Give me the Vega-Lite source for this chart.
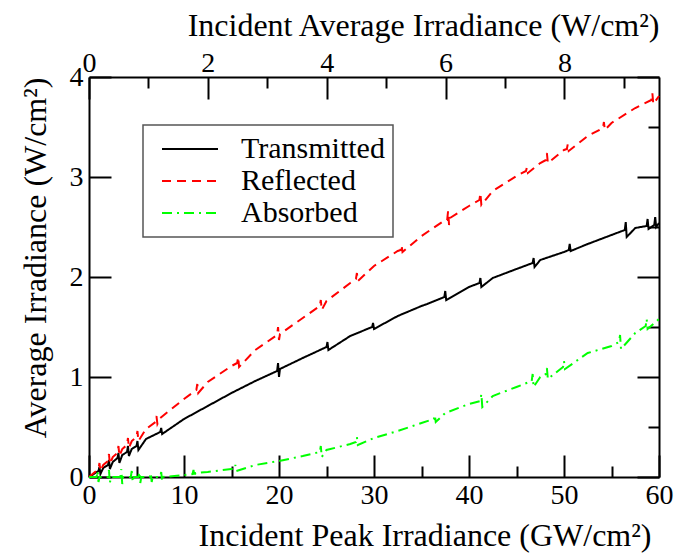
{
  "$schema": "https://vega.github.io/schema/vega-lite/v6.json",
  "width": 570,
  "height": 400,
  "autosize": {"type": "none"},
  "padding": {"left": 89, "top": 77, "right": 20, "bottom": 77},
  "background": "white",
  "config": {
    "view": {"stroke": null},
    "axis": {
      "labelFont": "Liberation Serif, Times New Roman, Times, DejaVu Serif, serif", "labelFontSize": 28, "labelColor": "black",
      "titleFont": "Liberation Serif, Times New Roman, Times, DejaVu Serif, serif", "titleFontSize": 32, "titleFontWeight": "normal", "titleColor": "black",
      "domainColor": "black", "domainWidth": 2, "tickColor": "black", "tickWidth": 2,
      "grid": false, "labelFlush": false, "labelOverlap": false, "labelBound": false, "titleAnchor": "end"
    },
    "legend": {
      "strokeColor": "#555555", "strokeWidth": 1.5, "fillColor": "white", "padding": 8
    }
  },
  "layer": [
    {
      "data": {"values": [
        {"s":"Transmitted","x":0,"y":0},{"s":"Transmitted","x":0.5,"y":0.03},{"s":"Transmitted","x":1,"y":0.06},{"s":"Transmitted","x":1.1,"y":0.1},{"s":"Transmitted","x":1.2,"y":0.03},{"s":"Transmitted","x":1.5,"y":0.09},{"s":"Transmitted","x":2,"y":0.12},{"s":"Transmitted","x":2.1,"y":0.17},{"s":"Transmitted","x":2.2,"y":0.08},{"s":"Transmitted","x":2.5,"y":0.15},{"s":"Transmitted","x":3,"y":0.19},{"s":"Transmitted","x":3.1,"y":0.24},{"s":"Transmitted","x":3.2,"y":0.14},{"s":"Transmitted","x":3.5,"y":0.22},{"s":"Transmitted","x":4,"y":0.25},{"s":"Transmitted","x":4.1,"y":0.31},{"s":"Transmitted","x":4.2,"y":0.21},{"s":"Transmitted","x":4.5,"y":0.28},{"s":"Transmitted","x":5,"y":0.31},{"s":"Transmitted","x":5.1,"y":0.36},{"s":"Transmitted","x":5.2,"y":0.27},{"s":"Transmitted","x":6,"y":0.38},{"s":"Transmitted","x":7.5,"y":0.45},{"s":"Transmitted","x":7.6,"y":0.49},{"s":"Transmitted","x":7.7,"y":0.43},{"s":"Transmitted","x":10,"y":0.58},{"s":"Transmitted","x":12.5,"y":0.71},{"s":"Transmitted","x":15,"y":0.84},{"s":"Transmitted","x":17.5,"y":0.96},{"s":"Transmitted","x":19.8,"y":1.06},{"s":"Transmitted","x":19.9,"y":1.14},{"s":"Transmitted","x":20,"y":1.0},{"s":"Transmitted","x":20.1,"y":1.08},{"s":"Transmitted","x":22.5,"y":1.19},{"s":"Transmitted","x":25,"y":1.3},{"s":"Transmitted","x":25.1,"y":1.35},{"s":"Transmitted","x":25.2,"y":1.27},{"s":"Transmitted","x":27.5,"y":1.41},{"s":"Transmitted","x":29.8,"y":1.5},{"s":"Transmitted","x":29.9,"y":1.54},{"s":"Transmitted","x":30,"y":1.48},{"s":"Transmitted","x":32.5,"y":1.61},{"s":"Transmitted","x":35,"y":1.71},{"s":"Transmitted","x":35.6,"y":1.73},{"s":"Transmitted","x":37.4,"y":1.8},{"s":"Transmitted","x":37.5,"y":1.86},{"s":"Transmitted","x":37.6,"y":1.77},{"s":"Transmitted","x":40,"y":1.9},{"s":"Transmitted","x":41.1,"y":1.94},{"s":"Transmitted","x":41.2,"y":1.99},{"s":"Transmitted","x":41.3,"y":1.9},{"s":"Transmitted","x":42.5,"y":1.99},{"s":"Transmitted","x":45,"y":2.08},{"s":"Transmitted","x":46.7,"y":2.14},{"s":"Transmitted","x":46.8,"y":2.19},{"s":"Transmitted","x":46.9,"y":2.1},{"s":"Transmitted","x":47.5,"y":2.17},{"s":"Transmitted","x":50,"y":2.25},{"s":"Transmitted","x":50.5,"y":2.27},{"s":"Transmitted","x":50.6,"y":2.33},{"s":"Transmitted","x":50.7,"y":2.26},{"s":"Transmitted","x":52.5,"y":2.33},{"s":"Transmitted","x":55,"y":2.42},{"s":"Transmitted","x":56.4,"y":2.47},{"s":"Transmitted","x":56.5,"y":2.55},{"s":"Transmitted","x":56.6,"y":2.4},{"s":"Transmitted","x":57.5,"y":2.49},{"s":"Transmitted","x":58.7,"y":2.51},{"s":"Transmitted","x":58.8,"y":2.58},{"s":"Transmitted","x":58.9,"y":2.48},{"s":"Transmitted","x":59.5,"y":2.52},{"s":"Transmitted","x":59.6,"y":2.6},{"s":"Transmitted","x":59.7,"y":2.5},{"s":"Transmitted","x":60,"y":2.54},
        {"s":"Reflected","x":0,"y":0},{"s":"Reflected","x":0.5,"y":0.04},{"s":"Reflected","x":1,"y":0.08},{"s":"Reflected","x":1.1,"y":0.14},{"s":"Reflected","x":1.2,"y":0.06},{"s":"Reflected","x":1.5,"y":0.12},{"s":"Reflected","x":2,"y":0.16},{"s":"Reflected","x":2.1,"y":0.23},{"s":"Reflected","x":2.2,"y":0.13},{"s":"Reflected","x":2.5,"y":0.2},{"s":"Reflected","x":3,"y":0.24},{"s":"Reflected","x":3.1,"y":0.31},{"s":"Reflected","x":3.2,"y":0.21},{"s":"Reflected","x":3.5,"y":0.28},{"s":"Reflected","x":4,"y":0.32},{"s":"Reflected","x":4.1,"y":0.39},{"s":"Reflected","x":4.2,"y":0.29},{"s":"Reflected","x":4.5,"y":0.36},{"s":"Reflected","x":5,"y":0.4},{"s":"Reflected","x":5.1,"y":0.46},{"s":"Reflected","x":5.2,"y":0.36},{"s":"Reflected","x":6,"y":0.48},{"s":"Reflected","x":7,"y":0.55},{"s":"Reflected","x":7.1,"y":0.61},{"s":"Reflected","x":7.2,"y":0.53},{"s":"Reflected","x":7.5,"y":0.59},{"s":"Reflected","x":10,"y":0.78},{"s":"Reflected","x":11.3,"y":0.87},{"s":"Reflected","x":11.4,"y":0.93},{"s":"Reflected","x":11.5,"y":0.84},{"s":"Reflected","x":12.5,"y":0.95},{"s":"Reflected","x":15,"y":1.11},{"s":"Reflected","x":15.6,"y":1.14},{"s":"Reflected","x":15.7,"y":1.2},{"s":"Reflected","x":15.8,"y":1.1},{"s":"Reflected","x":17.5,"y":1.27},{"s":"Reflected","x":19.8,"y":1.42},{"s":"Reflected","x":19.9,"y":1.5},{"s":"Reflected","x":20,"y":1.37},{"s":"Reflected","x":20.1,"y":1.43},{"s":"Reflected","x":22.5,"y":1.59},{"s":"Reflected","x":24.3,"y":1.71},{"s":"Reflected","x":24.4,"y":1.77},{"s":"Reflected","x":24.5,"y":1.67},{"s":"Reflected","x":25,"y":1.76},{"s":"Reflected","x":27.5,"y":1.94},{"s":"Reflected","x":28.1,"y":1.98},{"s":"Reflected","x":28.2,"y":2.04},{"s":"Reflected","x":28.3,"y":1.96},{"s":"Reflected","x":30,"y":2.11},{"s":"Reflected","x":32.5,"y":2.26},{"s":"Reflected","x":32.8,"y":2.27},{"s":"Reflected","x":32.9,"y":2.32},{"s":"Reflected","x":33,"y":2.25},{"s":"Reflected","x":35,"y":2.41},{"s":"Reflected","x":37.5,"y":2.57},{"s":"Reflected","x":37.7,"y":2.57},{"s":"Reflected","x":37.8,"y":2.66},{"s":"Reflected","x":37.9,"y":2.52},{"s":"Reflected","x":38,"y":2.59},{"s":"Reflected","x":40,"y":2.71},{"s":"Reflected","x":41.1,"y":2.77},{"s":"Reflected","x":41.2,"y":2.84},{"s":"Reflected","x":41.3,"y":2.72},{"s":"Reflected","x":42.5,"y":2.86},{"s":"Reflected","x":45,"y":3.01},{"s":"Reflected","x":46,"y":3.06},{"s":"Reflected","x":46.1,"y":3.1},{"s":"Reflected","x":46.2,"y":3.04},{"s":"Reflected","x":47.5,"y":3.14},{"s":"Reflected","x":48.1,"y":3.17},{"s":"Reflected","x":48.2,"y":3.24},{"s":"Reflected","x":48.3,"y":3.14},{"s":"Reflected","x":50,"y":3.27},{"s":"Reflected","x":50.3,"y":3.28},{"s":"Reflected","x":50.4,"y":3.33},{"s":"Reflected","x":50.5,"y":3.26},{"s":"Reflected","x":52.5,"y":3.41},{"s":"Reflected","x":54.1,"y":3.49},{"s":"Reflected","x":54.2,"y":3.55},{"s":"Reflected","x":54.3,"y":3.47},{"s":"Reflected","x":55,"y":3.54},{"s":"Reflected","x":57.5,"y":3.69},{"s":"Reflected","x":59.2,"y":3.77},{"s":"Reflected","x":59.3,"y":3.84},{"s":"Reflected","x":59.4,"y":3.73},{"s":"Reflected","x":60,"y":3.81},
        {"s":"Absorbed","x":0,"y":0},{"s":"Absorbed","x":0.8,"y":0},{"s":"Absorbed","x":0.9,"y":0.06},{"s":"Absorbed","x":1,"y":-0.05},{"s":"Absorbed","x":1.1,"y":0},{"s":"Absorbed","x":2,"y":0},{"s":"Absorbed","x":2.1,"y":0.07},{"s":"Absorbed","x":2.2,"y":-0.06},{"s":"Absorbed","x":2.3,"y":0},{"s":"Absorbed","x":3.3,"y":0},{"s":"Absorbed","x":3.4,"y":0.08},{"s":"Absorbed","x":3.5,"y":-0.07},{"s":"Absorbed","x":3.6,"y":0},{"s":"Absorbed","x":4.4,"y":0},{"s":"Absorbed","x":4.5,"y":0.06},{"s":"Absorbed","x":4.6,"y":-0.05},{"s":"Absorbed","x":4.7,"y":0},{"s":"Absorbed","x":5.2,"y":0},{"s":"Absorbed","x":5.3,"y":0.05},{"s":"Absorbed","x":5.4,"y":-0.06},{"s":"Absorbed","x":5.5,"y":0},{"s":"Absorbed","x":6.4,"y":0},{"s":"Absorbed","x":6.5,"y":0.04},{"s":"Absorbed","x":6.6,"y":-0.05},{"s":"Absorbed","x":6.7,"y":0},{"s":"Absorbed","x":7.5,"y":0},{"s":"Absorbed","x":7.6,"y":0.05},{"s":"Absorbed","x":7.7,"y":-0.04},{"s":"Absorbed","x":7.8,"y":0},{"s":"Absorbed","x":10,"y":0.02},{"s":"Absorbed","x":10.9,"y":0.03},{"s":"Absorbed","x":11,"y":0.07},{"s":"Absorbed","x":11.1,"y":0},{"s":"Absorbed","x":11.2,"y":0.04},{"s":"Absorbed","x":12.5,"y":0.05},{"s":"Absorbed","x":15,"y":0.08},{"s":"Absorbed","x":15.3,"y":0.08},{"s":"Absorbed","x":15.4,"y":0.12},{"s":"Absorbed","x":15.5,"y":0.06},{"s":"Absorbed","x":17.5,"y":0.12},{"s":"Absorbed","x":20,"y":0.16},{"s":"Absorbed","x":22.5,"y":0.21},{"s":"Absorbed","x":24.3,"y":0.25},{"s":"Absorbed","x":24.4,"y":0.31},{"s":"Absorbed","x":24.5,"y":0.2},{"s":"Absorbed","x":25,"y":0.27},{"s":"Absorbed","x":27.5,"y":0.33},{"s":"Absorbed","x":28.1,"y":0.35},{"s":"Absorbed","x":28.2,"y":0.4},{"s":"Absorbed","x":28.3,"y":0.32},{"s":"Absorbed","x":30,"y":0.39},{"s":"Absorbed","x":32.5,"y":0.46},{"s":"Absorbed","x":35,"y":0.54},{"s":"Absorbed","x":36.3,"y":0.58},{"s":"Absorbed","x":36.4,"y":0.62},{"s":"Absorbed","x":36.5,"y":0.55},{"s":"Absorbed","x":37.5,"y":0.64},{"s":"Absorbed","x":40,"y":0.73},{"s":"Absorbed","x":41.2,"y":0.76},{"s":"Absorbed","x":41.3,"y":0.83},{"s":"Absorbed","x":41.4,"y":0.7},{"s":"Absorbed","x":42.5,"y":0.81},{"s":"Absorbed","x":45,"y":0.9},{"s":"Absorbed","x":46.6,"y":0.96},{"s":"Absorbed","x":46.7,"y":1.03},{"s":"Absorbed","x":46.8,"y":0.9},{"s":"Absorbed","x":47.5,"y":1.0},{"s":"Absorbed","x":48.1,"y":1.03},{"s":"Absorbed","x":48.2,"y":1.09},{"s":"Absorbed","x":48.3,"y":0.98},{"s":"Absorbed","x":49.9,"y":1.1},{"s":"Absorbed","x":50,"y":1.16},{"s":"Absorbed","x":50.1,"y":1.08},{"s":"Absorbed","x":52.5,"y":1.24},{"s":"Absorbed","x":55,"y":1.31},{"s":"Absorbed","x":55.8,"y":1.35},{"s":"Absorbed","x":55.9,"y":1.42},{"s":"Absorbed","x":56,"y":1.28},{"s":"Absorbed","x":57.5,"y":1.44},{"s":"Absorbed","x":58.6,"y":1.51},{"s":"Absorbed","x":58.7,"y":1.58},{"s":"Absorbed","x":58.8,"y":1.48},{"s":"Absorbed","x":60,"y":1.58}
      ]},
      "mark": {"type": "line", "strokeWidth": 2, "clip": false},
      "encoding": {
        "x": {
          "field": "x", "type": "quantitative",
          "scale": {"domain": [0, 60], "nice": false, "zero": false},
          "axis": {
            "orient": "bottom", "title": "Incident Peak Irradiance (GW/cm²)",
            "values": [0,5,10,15,20,25,30,35,40,45,50,55,60],
            "tickSize": {"condition": {"test": "datum.value % 10 === 0", "value": -22}, "value": -11},
            "labelExpr": "datum.value % 10 === 0 ? datum.label : ''",
            "labelPadding": 26, "titlePadding": 0, "titleX": 562, "titleAlign": "right"
          }
        },
        "y": {
          "field": "y", "type": "quantitative",
          "scale": {"domain": [0, 4], "nice": false},
          "axis": {
            "orient": "left", "title": "Average Irradiance (W/cm²)",
            "values": [0,0.5,1,1.5,2,2.5,3,3.5,4], "format": "d",
            "tickSize": {"condition": {"test": "datum.value % 1 === 0", "value": -22}, "value": -11},
            "labelExpr": "datum.value % 1 === 0 ? datum.label : ''",
            "labelPadding": 28, "titlePadding": 17
          }
        },
        "color": {
          "field": "s", "type": "nominal",
          "scale": {"domain": ["Transmitted", "Reflected", "Absorbed"], "range": ["#000000", "#ff0000", "#00ff00"]},
          "legend": {
            "orient": "none", "legendX": 54, "legendY": 48, "title": null,
            "labelFont": "Liberation Serif, Times New Roman, Times, DejaVu Serif, serif", "labelFontSize": 30, "labelColor": "black",
            "symbolType": "stroke", "symbolSize": 3136, "symbolStrokeWidth": 2,
            "clipHeight": 32, "rowPadding": 0, "symbolOffset": 10, "labelOffset": 22
          }
        },
        "strokeDash": {
          "field": "s", "type": "nominal",
          "scale": {"domain": ["Transmitted", "Reflected", "Absorbed"], "range": [[1, 0], [9, 6], [10, 5, 2, 5]]},
          "legend": {
            "orient": "none", "legendX": 54, "legendY": 48, "title": null,
            "labelFont": "Liberation Serif, Times New Roman, Times, DejaVu Serif, serif", "labelFontSize": 30, "labelColor": "black",
            "symbolType": "stroke", "symbolSize": 3136, "symbolStrokeWidth": 2,
            "clipHeight": 32, "rowPadding": 0, "symbolOffset": 10, "labelOffset": 22
          }
        }
      }
    },
    {
      "data": {"values": [{"a": 0, "v": 0}, {"a": 9.59, "v": 4}]},
      "mark": {"type": "point", "opacity": 0},
      "encoding": {
        "x": {
          "field": "a", "type": "quantitative",
          "scale": {"domain": [0, 9.59], "nice": false, "zero": false},
          "axis": {
            "orient": "top", "title": "Incident Average Irradiance (W/cm²)",
            "values": [0,1,2,3,4,5,6,7,8,9],
            "tickSize": {"condition": {"test": "datum.value % 2 === 0", "value": -22}, "value": -11},
            "labelExpr": "datum.value % 2 === 0 ? datum.label : ''",
            "labelPadding": 22, "titlePadding": -4
          }
        },
        "y": {
          "field": "v", "type": "quantitative",
          "scale": {"domain": [0, 4], "nice": false},
          "axis": {
            "orient": "right", "title": null, "labels": false,
            "values": [0,0.5,1,1.5,2,2.5,3,3.5,4],
            "tickSize": {"condition": {"test": "datum.value % 1 === 0", "value": -22}, "value": -11}
          }
        }
      }
    }
  ],
  "resolve": {"scale": {"x": "independent"}, "axis": {"y": "independent"}}
}
